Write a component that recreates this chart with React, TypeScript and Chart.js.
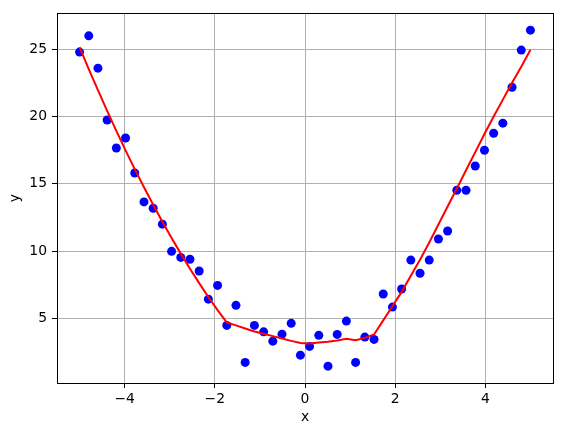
import { useEffect, useRef } from "react";
import { Chart, registerables } from "chart.js";

Chart.register(...registerables);

// sample positions along x (50 evenly spaced samples from -5 to 5)
const xValues = [
  -5.0, -4.796, -4.592, -4.388, -4.184, -3.98, -3.776, -3.571, -3.367, -3.163,
  -2.959, -2.755, -2.551, -2.347, -2.143, -1.939, -1.735, -1.531, -1.327, -1.122,
  -0.918, -0.714, -0.51, -0.306, -0.102, 0.102, 0.306, 0.51, 0.714, 0.918,
  1.122, 1.327, 1.531, 1.735, 1.939, 2.143, 2.347, 2.551, 2.755, 2.959,
  3.163, 3.367, 3.571, 3.776, 3.98, 4.184, 4.388, 4.592, 4.796, 5.0,
];

// noisy observations (blue dots)
const observed = [
  24.78, 25.99, 23.59, 19.74, 17.66, 18.4, 15.8, 13.65, 13.18, 12.0,
  9.98, 9.53, 9.39, 8.52, 6.43, 7.45, 4.48, 5.97, 1.73, 4.48,
  4.0, 3.31, 3.83, 4.63, 2.27, 2.92, 3.74, 1.45, 3.81, 4.8,
  1.73, 3.61, 3.44, 6.81, 5.84, 7.18, 9.33, 8.35, 9.33, 10.9,
  11.49, 14.52, 14.52, 16.32, 17.49, 18.75, 19.5, 22.17, 24.93, 26.41,
];

// fitted curve (red line)
const fitted = [
  25.15, 23.52, 21.95, 20.41, 18.93, 17.48, 16.09, 14.74, 13.44, 12.18,
  10.97, 9.81, 8.69, 7.62, 6.59, 5.61, 4.7, 4.48, 4.25, 4.03,
  3.86, 3.68, 3.5, 3.33, 3.17, 3.14, 3.2, 3.26, 3.36, 3.48,
  3.38, 3.55, 3.8, 4.85, 5.9, 6.97, 8.17, 9.36, 10.63, 11.97,
  13.31, 14.65, 16.0, 17.35, 18.7, 20.0, 21.25, 22.5, 23.7, 24.95,
];

const xTicks = [-4, -2, 0, 2, 4];
const yTicks = [5, 10, 15, 20, 25];

const FONT = { family: "'DejaVu Sans', sans-serif", size: 13.9 };

const fmt = (v: number) => (v < 0 ? "\u2212" + Math.abs(v) : String(v));

// matplotlib-style box around the axes
const framePlugin = {
  id: "frame",
  afterDatasetsDraw(chart: Chart) {
    const { ctx, chartArea: a } = chart;
    ctx.save();
    ctx.strokeStyle = "#000";
    ctx.lineWidth = 1;
    ctx.strokeRect(
      Math.round(a.left) + 0.5,
      Math.round(a.top) + 0.5,
      Math.round(a.right - a.left),
      Math.round(a.bottom - a.top)
    );
    ctx.restore();
  },
};

const App = () => {
  const canvasRef = useRef<HTMLCanvasElement | null>(null);

  useEffect(() => {
    document.body.style.margin = "0";
    if (!canvasRef.current) return;

    const chart = new Chart(canvasRef.current, {
      type: "scatter",
      data: {
        datasets: [
          {
            data: xValues.map((x, i) => ({ x, y: observed[i] })),
            backgroundColor: "blue",
            borderWidth: 0,
            pointRadius: 4.5,
            order: 1,
          },
          {
            data: xValues.map((x, i) => ({ x, y: fitted[i] })),
            showLine: true,
            borderColor: "red",
            borderWidth: 2,
            pointRadius: 0,
            order: 0,
          },
        ],
      },
      options: {
        animation: false,
        responsive: false,
        layout: { padding: { top: 13, right: 13, left: 0, bottom: 0 } },
        plugins: {
          legend: { display: false },
          tooltip: { enabled: false },
        },
        scales: {
          x: {
            type: "linear",
            min: -5.5,
            max: 5.5,
            afterBuildTicks: (s: any) => {
              s.ticks = xTicks.map((v) => ({ value: v }));
            },
            afterFit: (s: any) => {
              s.height = 53;
            },
            ticks: {
              color: "#000",
              font: FONT,
              padding: 3,
              maxRotation: 0,
              autoSkip: false,
              callback: (v: any) => fmt(Number(v)),
            },
            grid: {
              color: "#b0b0b0",
              lineWidth: 1,
              tickColor: "#000",
              tickLength: 5,
              tickWidth: 1,
            },
            border: { display: false },
            title: {
              display: true,
              text: "x",
              color: "#000",
              font: FONT,
              padding: { top: 0, bottom: 10 },
            },
          },
          y: {
            type: "linear",
            min: 0.2,
            max: 27.66,
            afterBuildTicks: (s: any) => {
              s.ticks = yTicks.map((v) => ({ value: v }));
            },
            afterFit: (s: any) => {
              s.width = 57;
            },
            ticks: {
              color: "#000",
              font: FONT,
              padding: 5,
              autoSkip: false,
              callback: (v: any) => fmt(Number(v)),
            },
            grid: {
              color: "#b0b0b0",
              lineWidth: 1,
              tickColor: "#000",
              tickLength: 5,
              tickWidth: 1,
            },
            border: { display: false },
            title: {
              display: true,
              text: "y",
              color: "#000",
              font: FONT,
              padding: { top: 7, bottom: 0 },
            },
          },
        },
      },
      plugins: [framePlugin],
    });

    return () => {
      chart.destroy();
    };
  }, []);

  return (
    <div style={{ width: "566px", height: "436px" }}>
      <canvas ref={canvasRef} width={566} height={436} style={{ display: "block" }} />
    </div>
  );
};

export default App;
